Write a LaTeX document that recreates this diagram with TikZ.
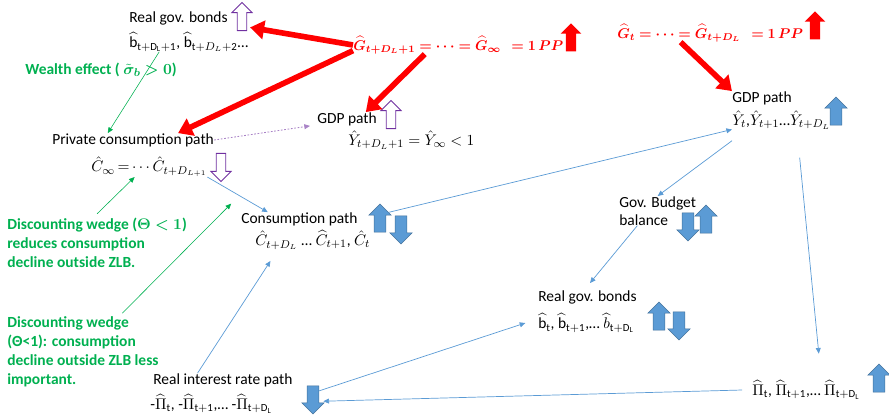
\documentclass[tikz,border=0pt]{standalone}
\usepackage{fontspec}
\setmainfont{Carlito}
\usepackage{amsmath,amssymb,bm}
\usepackage{tikz}
\usetikzlibrary{positioning,arrows.meta,shapes.arrows}

\definecolor{shockred}{RGB}{255,0,0}
\definecolor{wedgegreen}{RGB}{0,176,80}
\definecolor{pathblue}{RGB}{91,155,213}
\definecolor{edgeblue}{RGB}{65,113,156}
\definecolor{lilac}{RGB}{112,48,160}

\begin{document}
\begin{tikzpicture}[x=0.025cm,y=-0.025cm,
			lbl/.style={anchor=west, inner sep=0pt, font=\fontsize{11}{13}\selectfont},
			note/.style={anchor=north west, inner sep=0pt, align=left, text=wedgegreen, font=\fontsize{11}{13.5}\selectfont\bfseries},
			shock/.style={lbl, text=shockred, font=\fontsize{10.3}{12}\selectfont},
			blk/.style={single arrow, inner sep=0.14cm, minimum height=0.7cm, single arrow head extend=0.13cm},
			upblue/.style={blk, shape border rotate=90, fill=pathblue, draw=edgeblue, line width=0.4pt},
			downblue/.style={blk, shape border rotate=270, fill=pathblue, draw=edgeblue, line width=0.4pt},
			uphollow/.style={blk, inner sep=0.11cm, shape border rotate=90, fill=white, draw=lilac, line width=0.6pt},
			downhollow/.style={blk, inner sep=0.11cm, shape border rotate=270, fill=white, draw=lilac, line width=0.6pt},
			upred/.style={blk, inner sep=0.12cm, shape border rotate=90, fill=shockred},
			bigred/.style={draw=shockred, line width=4pt, -{Triangle[width=13pt,length=10pt]}},
			thinblue/.style={draw=pathblue, line width=0.5pt, -{Triangle[width=3.5pt,length=4pt]}},
			thingreen/.style={draw=wedgegreen, line width=0.4pt, -{Triangle[width=3.5pt,length=4pt]}},
			dotlilac/.style={draw=lilac!60, line width=0.6pt, dash pattern=on 1.2pt off 1.2pt, -{Triangle[width=3.5pt,length=4pt]}},
			]
			\useasboundingbox (0,0) rectangle (889,417);
			%Shocks
			\node[shock] (gLate) at (353,45) {$\bm{\widehat{G}_{t+D_L+1}=\cdots=\widehat{G}_\infty\ \ =1\,PP}$};
			\node[upred] (gLateUp) at (571,40) {};
			\node[shock] (gEarly) at (617,33) {$\bm{\widehat{G}_t=\cdots=\widehat{G}_{t+D_L}\ \ =1\,PP}$};
			\node[upred] (gEarlyUp) at (815,28) {};

			%Nodes after the ZLB
			\node[lbl] (bondsTop) at (129,18) {Real gov. bonds};
			\node[uphollow] (bondsTopUp) at (242,19) {};
			\node[lbl] (bondsTopVal) at (129,42) {$\widehat{\mathrm{b}}_{\mathrm{t+D_L+1}}$, $\widehat{\mathrm{b}}_{\mathrm{t+}D_L\mathrm{+2}}$\text{…}};
			\node[lbl] (consPriv) at (52,140) {Private consumption path};
			\node[lbl] (consPrivVal) at (91,167) {$\hat{C}_\infty\mkern-2mu=\mkern-2mu\cdots\hat{C}_{t+D_{L+1}}$};
			\node[downhollow] (consPrivDown) at (221,165) {};
			\node[lbl] (gdpLate) at (317,119) {GDP path};
			\node[uphollow] (gdpLateUp) at (391,117) {};
			\node[lbl] (gdpLateVal) at (348,140) {$\hat{Y}_{t+D_L+1}=\hat{Y}_\infty<1$};

			%Nodes inside the ZLB
			\node[lbl] (consPath) at (241,219) {Consumption path};
			\node[upblue] (consUp) at (380,221) {};
			\node[downblue] (consDown) at (401,227) {};
			\node[lbl] (consPathVal) at (255,240) {$\hat{C}_{t+D_L}$ … $\widehat{C}_{t+1}$, $\hat{C}_t$};
			\node[lbl] (gdpPath) at (732,98) {GDP path};
			\node[lbl] (gdpPathVal) at (732,120) {$\hat{Y}_t$,$\hat{Y}_{t+1}$…$\hat{Y}_{t+D_L}$};
			\node[upblue] (gdpPathUp) at (836,114) {};
			\node[lbl, anchor=north west, align=left] (budget) at (619,196) {Gov. Budget\\balance};
			\node[downblue] (budgetDown) at (688,224) {};
			\node[upblue] (budgetUp) at (706,222) {};
			\node[lbl] (bondsPath) at (538,297) {Real gov. bonds};
			\node[lbl] (bondsPathVal) at (538,323) {$\widehat{\mathrm{b}}_{\mathrm{t}}$, $\widehat{\mathrm{b}}_{\mathrm{t+1}}$,… $\widehat{b}_{\mathrm{t+D_L}}$};
			\node[upblue] (bondsPathUp) at (659,319) {};
			\node[downblue] (bondsPathDown) at (679,323) {};
			\node[lbl] (ratePath) at (153,380) {Real interest rate path};
			\node[lbl] (rateVal) at (150,404) {-$\widehat{\Pi}_{\mathrm{t}}$, -$\widehat{\Pi}_{\mathrm{t+1}}$,… -$\widehat{\Pi}_{\mathrm{t+D_L}}$};
			\node[downblue] (rateDown) at (313,397) {};
			\node[lbl] (inflVal) at (752,390) {$\widehat{\Pi}_{\mathrm{t}}$, $\widehat{\Pi}_{\mathrm{t+1}}$,… $\widehat{\Pi}_{\mathrm{t+D_L}}$};
			\node[upblue] (inflUp) at (879,381) {};

			%Notes
			\node[lbl, text=wedgegreen, font=\fontsize{11}{13}\selectfont\bfseries] (wealth) at (25,70) {Wealth effect ( $\bm{\tilde{\sigma}_b>0}$)};
			\node[note] (wedgeA) at (7,218) {Discounting wedge ($\bm{\Theta<1}$)\\reduces consumption\\decline outside ZLB.};
			\node[note] (wedgeB) at (7,316) {Discounting wedge\\(Θ<1): consumption\\decline outside ZLB less\\important.};

			%Connectors
			\draw[bigred] (gLate.west) -- ([shift={(2pt,-6pt)}]bondsTopUp.east);
			\draw[bigred] ([yshift=-4pt]gLate.west) -- ([xshift=32pt]consPriv.north);
			\draw[bigred] ([xshift=51pt]gLate.south west) -- ([xshift=-8pt]gdpLate.north east);
			\draw[bigred] ([xshift=-21pt]gEarly.south) -- (gdpPath.north west);

			\draw[thingreen] ([xshift=-21pt]bondsTopVal.south) -- ([xshift=-18pt]consPriv.north);
			\draw[thingreen] ([yshift=3pt]wedgeA.north) -- ([xshift=31pt]consPrivVal.south west);
			\draw[thingreen] ([xshift=28pt,yshift=2pt]wedgeB.north) -- ([shift={(-7pt,6pt)}]consPath.north west);
			\draw[dotlilac] (consPriv.east) -- ([xshift=-5pt]gdpLate.south west);

			\draw[thinblue] (consPrivVal.south east) -- ([xshift=19pt]consPath.north west);
			\draw[thinblue] (consUp.north east) -- (gdpPathVal.south west);
			\draw[thinblue] ([yshift=-8pt]gdpPathVal.south west) -- (budget.north);
			\draw[thinblue] ([xshift=13pt]budget.south west) -- ([shift={(37pt,5pt)}]bondsPath.north west);
			\draw[thinblue] (rateDown.north east) -- ([xshift=-9pt]bondsPathVal.west);
			\draw[thinblue] ([shift={(13pt,-20pt)}]gdpPathVal.south) -- ([shift={(9pt,19pt)}]inflVal.north);
			\draw[thinblue] ([xshift=-7pt]inflVal.west) -- ([xshift=3pt,yshift=-3pt]rateDown.east);
			\draw[thinblue] ([xshift=-18pt]ratePath.north) -- ([shift={(11pt,-8pt)}]consPathVal.south west);
		\end{tikzpicture}
\end{document}
